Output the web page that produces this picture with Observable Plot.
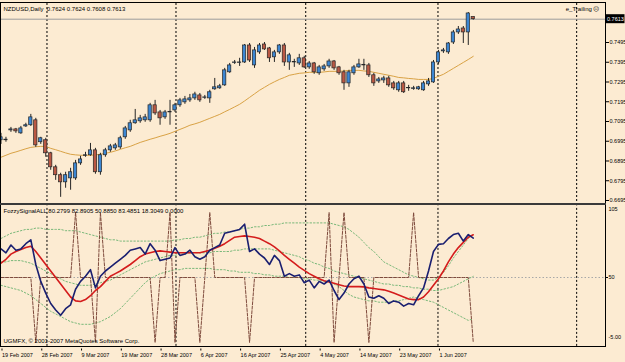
<!DOCTYPE html>
<html><head><meta charset="utf-8">
<script src="https://cdn.jsdelivr.net/npm/d3@7"></script>
<script src="https://cdn.jsdelivr.net/npm/@observablehq/plot@0.6"></script>
<style>
html,body{margin:0;padding:0;background:#FCEBD2;}
#wrap{position:relative;width:625px;height:362px;background:#FCEBD2;overflow:hidden;font-family:"Liberation Sans",Arial,sans-serif;}
#wrap svg{position:absolute;left:0;overflow:visible;}
.ln{position:absolute;background:#000;}
</style></head><body><div id="wrap"></div>
<script>
// ---------- DATA ----------
const opens=[0.7000,0.7000,0.7050,0.7055,0.7035,0.7070,0.7076,0.7101,0.6990,0.7000,
0.6934,0.6863,0.6823,0.6787,0.6807,0.6807,0.6883,0.6921,0.6924,0.6949,
0.6838,0.6924,0.6949,0.6959,0.6964,0.7015,0.7050,0.7086,0.7096,0.7101,
0.7101,0.7177,0.7141,0.7116,0.7141,0.7151,0.7177,0.7192,0.7202,0.7212,
0.7227,0.7215,0.7212,0.7258,0.7263,0.7278,0.7344,0.7392,0.7392,0.7394,
0.7480,0.7379,0.7445,0.7485,0.7465,0.7420,0.7445,0.7480,0.7394,0.7394,
0.7389,0.7415,0.7369,0.7389,0.7339,0.7359,0.7374,0.7399,0.7369,0.7344,
0.7288,0.7339,0.7369,0.7379,0.7379,0.7329,0.7298,0.7303,0.7313,0.7288,
0.7253,0.7288,0.7263,0.7260,0.7258,0.7253,0.7283,0.7293,0.7394,0.7450,
0.7445,0.7495,0.7546,0.7566,0.7546,0.7624];
const highs=[0.7035,0.7015,0.7065,0.7060,0.7070,0.7086,0.7131,0.7111,0.7015,0.7010,
0.6939,0.6873,0.6833,0.6838,0.6858,0.6898,0.6919,0.6939,0.6984,0.6959,
0.6934,0.6959,0.6979,0.6984,0.7020,0.7070,0.7101,0.7156,0.7126,0.7131,
0.7187,0.7202,0.7151,0.7151,0.7202,0.7187,0.7212,0.7222,0.7232,0.7243,
0.7237,0.7227,0.7253,0.7313,0.7283,0.7364,0.7389,0.7404,0.7415,0.7485,
0.7490,0.7470,0.7490,0.7495,0.7470,0.7455,0.7485,0.7490,0.7440,0.7410,
0.7435,0.7425,0.7399,0.7394,0.7379,0.7384,0.7410,0.7404,0.7374,0.7354,
0.7354,0.7379,0.7410,0.7410,0.7389,0.7339,0.7318,0.7324,0.7324,0.7298,
0.7298,0.7298,0.7278,0.7273,0.7273,0.7298,0.7313,0.7404,0.7455,0.7465,
0.7495,0.7556,0.7576,0.7576,0.7647,0.7624];
const lows=[0.6979,0.6990,0.7040,0.7035,0.7030,0.7065,0.7070,0.6964,0.6979,0.6914,
0.6848,0.6797,0.6711,0.6757,0.6747,0.6797,0.6873,0.6914,0.6919,0.6828,
0.6823,0.6914,0.6939,0.6949,0.6954,0.7005,0.7040,0.7081,0.7086,0.7091,
0.7091,0.7126,0.7076,0.7106,0.7076,0.7141,0.7167,0.7182,0.7192,0.7202,
0.7192,0.7207,0.7187,0.7253,0.7258,0.7273,0.7339,0.7384,0.7374,0.7389,
0.7394,0.7364,0.7435,0.7455,0.7394,0.7394,0.7435,0.7374,0.7354,0.7369,
0.7379,0.7364,0.7359,0.7334,0.7329,0.7349,0.7364,0.7354,0.7329,0.7253,
0.7268,0.7329,0.7364,0.7354,0.7318,0.7273,0.7288,0.7288,0.7268,0.7253,
0.7243,0.7237,0.7248,0.7253,0.7253,0.7248,0.7273,0.7288,0.7384,0.7440,
0.7435,0.7485,0.7536,0.7490,0.7480,0.7608];
const closes=[0.7015,0.7003,0.7055,0.7045,0.7060,0.7076,0.7116,0.6974,0.7010,0.6934,
0.6863,0.6823,0.6787,0.6823,0.6838,0.6883,0.6903,0.6924,0.6949,0.6838,
0.6924,0.6949,0.6969,0.6974,0.7010,0.7060,0.7086,0.7101,0.7111,0.7116,
0.7177,0.7136,0.7111,0.7141,0.7144,0.7177,0.7202,0.7207,0.7212,0.7232,
0.7202,0.7217,0.7243,0.7268,0.7273,0.7354,0.7379,0.7394,0.7394,0.7480,
0.7404,0.7455,0.7480,0.7460,0.7415,0.7445,0.7480,0.7394,0.7430,0.7397,
0.7415,0.7369,0.7389,0.7344,0.7369,0.7374,0.7399,0.7364,0.7339,0.7288,
0.7344,0.7369,0.7384,0.7382,0.7329,0.7288,0.7308,0.7313,0.7278,0.7263,
0.7288,0.7243,0.7265,0.7263,0.7268,0.7288,0.7298,0.7394,0.7445,0.7455,
0.7490,0.7546,0.7561,0.7546,0.7642,0.7613];
const maLine=[0.6914,0.6924,0.6934,0.6941,0.6949,0.6957,0.6964,0.6967,0.6969,0.6969,
0.6959,0.6952,0.6944,0.6936,0.6929,0.6926,0.6924,0.6924,0.6924,0.6926,
0.6929,0.6934,0.6939,0.6946,0.6954,0.6962,0.6969,0.6979,0.6989,0.6997,
0.7005,0.7012,0.7020,0.7027,0.7035,0.7045,0.7055,0.7065,0.7076,0.7083,
0.7091,0.7101,0.7111,0.7121,0.7131,0.7144,0.7156,0.7169,0.7182,0.7199,
0.7217,0.7235,0.7253,0.7268,0.7283,0.7296,0.7308,0.7318,0.7329,0.7334,
0.7339,0.7341,0.7344,0.7344,0.7344,0.7346,0.7349,0.7349,0.7349,0.7351,
0.7354,0.7354,0.7354,0.7351,0.7349,0.7344,0.7339,0.7334,0.7329,0.7324,
0.7318,0.7316,0.7313,0.7311,0.7308,0.7308,0.7308,0.7313,0.7324,0.7334,
0.7349,0.7364,0.7379,0.7394,0.7409,0.7425];
const symbolName="NZDUSD,Daily";
const expertName="e_Trailing \u2639";
const indicatorName="FozzySignalALL";
const copyright="UGMFX, \u00A9 2001-2007 MetaQuotes Software Corp.";
const priceTicks=[0.6695,0.6795,0.6895,0.6995,0.7095,0.7195,0.7295,0.7395,0.7495];
const blueLine=[72,69,75,71,72,76,79,60,47,38,
30,25,21,26,29,41,47,51,56,42,
51,55,58,61,64,67,71,72,73,68,
76,71,63,64,65,73,67,68,71,66,
64,66,71,73,75,84,85,86,87,91,
70,72,68,65,60,67,63,51,53,51,
52,46,48,42,47,45,48,40,33,38,
45,49,51,45,35,34,36,34,30,32,
31,28,30,29,36,42,55,70,75.5,76,
80,83,84,78,83,80.2799];
const redLine=[61,64,68,70,71.5,73,74,70,65,60,
55,50,45,40,35,32,31.5,33,36,40,
43,47,51,53,55,57.5,60,63,66,68,
69,70,70.5,70,69.5,69,69,69,69,69,
69,70,71,72.5,74,76,78.5,81,81.5,82,
81.5,81,80,78,76,73.5,70.5,67,64,61,
58,55.5,53,51,49,47.5,46.5,45.5,44.5,43.5,
43,43,43,42.8,42,41.5,41,40.5,39.5,38,
36.5,35,33.5,33,33,35,39,44,49,55,
62,68,73,77,81,82.8905];
const middleBand=[62,62,63,63,63,62,61,59,57,55,
53,51,49,47,46,45,44,44,44,45,
46,47,48,50,52,54,56,58,60,62,
63,64,65,66,67,67,68,68,69,69,
69,69,69,70,70,70,70,71,71,72,
72,72,72,72,72,71,70,69,68,67,
66,64,63,61,60,58,57,55,54,53,
52,51,50,49,48,47,46,45,45,44,
44,43,43,42,42,41,41,40,40,41,
42,43,45,47,49,50.885];
const upperBand=[80,82,84,85,86,87,87,88,88,87,
87,87,87,86,86,86,85,84,83,82,
81,80,79,79,78,78,78,78,78,78,
78,78,78,78,78,79,79,80,80,81,
81,82,83,84,84,85,85,86,87,88,
88,89,89,90,90,91,91,92,92,92,
92,92,92,92,92,92,92,91,90,89,
87,84,81,77,73,70,66,62,60,58,
56,54,52,51,50,49,48,48,50,54,
59,65,70,75,80,83.4851];
const lowerBand=[44,43,42,41,40,38,36,33,30,27,
24,22,20,18,16,15,14,14,14,15,
16,18,20,23,26,30,34,38,42,46,
49,51,53,54,55,56,56,57,57,57,
57,57,57,56,56,56,55,55,54,54,
54,53,53,52,52,51,51,51,50,50,
50,49,49,48,48,47,47,45,43,40,
37,35,34,33,32,32,31,31,31,32,
32,33,34,35,34,33,32,31,29,27,
25,23,21,19,17,18.3049];
const signalLine=[50,50,50,50,50,50,50,0,50,50,
50,50,50,50,50,100,50,50,50,0,
100,50,50,50,50,50,50,50,50,50,
50,0,50,50,100,0,50,50,50,50,
0,50,100,50,50,50,50,50,50,50,
0,50,50,50,50,50,50,50,50,50,
50,50,50,50,50,50,100,0,50,100,
50,50,50,50,0,50,50,50,50,50,
50,50,50,100,50,50,50,50,50,50,
50,50,50,50,50,0];
const dateLabels=["19 Feb 2007","28 Feb 2007","9 Mar 2007","19 Mar 2007","28 Mar 2007","6 Apr 2007","16 Apr 2007","25 Apr 2007","4 May 2007","14 May 2007","23 May 2007","1 Jun 2007"];
const dateBars=[0,8,16,24,32,40,48,56,64,72,80,88];
const gridBars=[9.25,35.2,61.3,87.9,115.8];
const indMax=105, indMid=50, indMin=-5;

// ---------- LAYOUT ----------
const N=closes.length, idx=d3.range(N);
const last=N-1;
const X_DOMAIN=[-0.1,121.6];
const FONT='"Liberation Sans",Arial,sans-serif';
const upC="#3C86D2", dnC="#BA5843", edge="#262626";
const wrap=document.getElementById("wrap");

const chart1=Plot.plot({
  width:625,height:206,marginLeft:0,marginRight:20,marginTop:3,marginBottom:2,
  x:{type:"linear",domain:X_DOMAIN,axis:null},
  y:{domain:[0.66747,0.76925],axis:null},
  color:{type:"identity"},
  style:{background:"transparent",fontFamily:FONT,fontSize:"5.5px",color:"#000"},
  marks:[
    Plot.ruleX(gridBars,{stroke:"#000",strokeWidth:1,strokeDasharray:"2,2"}),
    Plot.ruleY([closes[last]],{stroke:"#9c9c9c",strokeWidth:1}),
    Plot.line(idx,{x:i=>i,y:i=>maLine[i],stroke:"#D9A245",strokeWidth:1}),
    Plot.ruleX(idx,{x:i=>i,y1:i=>lows[i],y2:i=>highs[i],stroke:edge,strokeWidth:1}),
    Plot.rect(idx,{x1:i=>i-0.33,x2:i=>i+0.33,y1:i=>opens[i],y2:i=>closes[i],
      fill:i=>closes[i]>=opens[i]?upC:dnC,stroke:edge,strokeWidth:0.7}),
    Plot.axisY({anchor:"right",ticks:priceTicks,tickFormat:d=>d.toFixed(4),tickSize:3,tickPadding:1,stroke:"#000"}),
    Plot.text([symbolName+"  "+[opens[last],highs[last],lows[last],closes[last]].map(v=>v.toFixed(4)).join(" ")],
      {frameAnchor:"top-left",dx:3,dy:3,text:d=>d,fontSize:6,fill:"#000",textAnchor:"start"}),
    Plot.text([expertName],{frameAnchor:"top-right",dx:-6,dy:3,text:d=>d,fontSize:6,fill:"#000",textAnchor:"end"})
  ]
});
chart1.style.top="0px";
wrap.appendChild(chart1);
// current price marker on the axis
{
  const yp=chart1.scale("y").apply(closes[last]);
  const s=d3.select(chart1);
  s.append("rect").attr("x",605.5).attr("y",yp-4.5).attr("width",19).attr("height",9).attr("fill","#000");
  s.append("text").attr("x",607).attr("y",yp+2).attr("text-anchor","start").attr("fill","#fff")
    .attr("font-size","5.5px").attr("font-family",FONT).text(closes[last].toFixed(4));
}

const chart2=Plot.plot({
  width:625,height:158,marginLeft:0,marginRight:20,marginTop:1.5,marginBottom:13.5,
  x:{type:"linear",domain:X_DOMAIN},
  y:{type:"linear",domain:[indMin,indMax],axis:null},
  style:{background:"transparent",fontFamily:FONT,fontSize:"5.5px",color:"#000"},
  marks:[
    Plot.ruleX(gridBars,{y1:-3,y2:105,stroke:"#000",strokeWidth:1,strokeDasharray:"2,2"}),
    Plot.ruleY([indMid],{stroke:"#a8a8a8",strokeWidth:1,strokeDasharray:"1.5,2"}),
    Plot.line(idx,{x:i=>i,y:i=>upperBand[i],stroke:"#79B879",strokeWidth:1,strokeDasharray:"1.5,2"}),
    Plot.line(idx,{x:i=>i,y:i=>middleBand[i],stroke:"#79B879",strokeWidth:1,strokeDasharray:"1.5,2"}),
    Plot.line(idx,{x:i=>i,y:i=>lowerBand[i],stroke:"#79B879",strokeWidth:1,strokeDasharray:"1.5,2"}),
    Plot.line(idx,{x:i=>i,y:i=>signalLine[i],stroke:"#7E4A3C",strokeWidth:1,strokeDasharray:"3,1.5"}),
    Plot.line(idx,{x:i=>i,y:i=>redLine[i],stroke:"#D41C1C",strokeWidth:1.6}),
    Plot.line(idx,{x:i=>i,y:i=>blueLine[i],stroke:"#1A1F70",strokeWidth:1.6}),
    Plot.axisX({anchor:"bottom",ticks:dateBars,tickFormat:d=>dateLabels[dateBars.indexOf(d)],tickSize:2,tickPadding:2,textAnchor:"start",dx:1,stroke:"#000"}),
    Plot.text([indMax],{x:X_DOMAIN[1],y:d=>d,text:d=>String(d),dx:3,dy:3,textAnchor:"start",fill:"#000"}),
    Plot.text([indMid],{x:X_DOMAIN[1],y:d=>d,text:d=>String(d),dx:3,textAnchor:"start",fill:"#000"}),
    Plot.text([indMin],{x:X_DOMAIN[1],y:d=>d,text:d=>d.toFixed(2),dx:3,dy:-11.5,textAnchor:"start",fill:"#000"}),
    Plot.text([indicatorName+" "+[blueLine[last],redLine[last],middleBand[last],upperBand[last],lowerBand[last],signalLine[last]].map(v=>v.toFixed(4)).join(" ")],
      {frameAnchor:"top-left",dx:3,dy:3,text:d=>d,fontSize:6,fill:"#000",textAnchor:"start"}),
    Plot.text([copyright],{frameAnchor:"bottom-left",dx:3,dy:-6,text:d=>d,fontSize:6,fill:"#000",textAnchor:"start"})
  ]
});
chart2.style.top="204px";
wrap.appendChild(chart2);

// frame lines (window borders)
function line(l,t,w,h,c){const d=document.createElement("div");d.className="ln";d.style.left=l+"px";d.style.top=t+"px";d.style.width=w+"px";d.style.height=h+"px";if(c)d.style.background=c;wrap.appendChild(d);}
line(0,2,606,1);
line(0,2,1,345);
line(605,2,1,345);
line(0,203,606,2,"#3a3a3a");
line(0,346,606,1);
line(605,276.5,3,1);
</script></body></html>
